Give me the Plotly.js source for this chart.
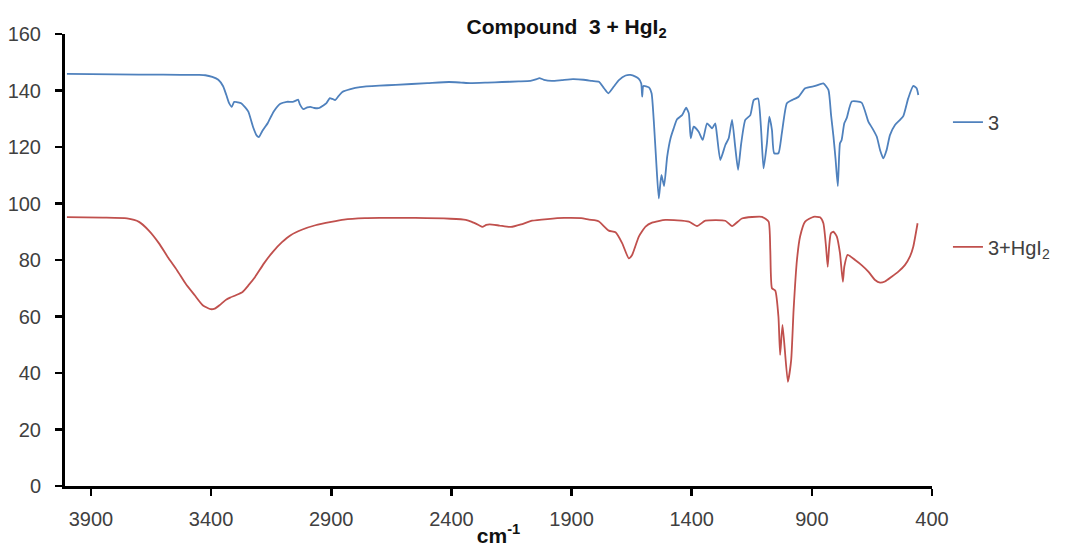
<!DOCTYPE html>
<html>
<head>
<meta charset="utf-8">
<script src="https://cdn.plot.ly/plotly-3.0.1.min.js"></script>
<style>html,body{margin:0;padding:0;background:#fff}#chart{width:1067px;height:547px}</style>
</head>
<body>
<div id="chart"></div>
<script>
// Series "3" : wavenumber (cm-1) and %T
const wn3 = [4000,3800,3600,3450,3424,3395,3370,3350,3337,3325,3314,3304,3290,3275,3258,3245,3225,3210,3201,3188,3164,3140,3112,3085,3060,3045,3038,3030,3016,3000,2987,2970,2950,2935,2920,2906,2895,2884,2870,2854,2820,2780,2700,2632,2500,2410,2360,2322,2250,2189,2120,2071,2045,2034,2015,1982,1940,1894,1850,1815,
 1786,1765,1747,1724,1703,1675,1655,1634,1620,1610,1606,1601,1578,1567,1558,1548,1537,1526,1515,1502,1488,1475,1461,1440,1423,1412,1404,1392,1371,1354,1336,1315,1302,1295,1281,1260,1246,1232,1219,1207,1194,1177,1156,1142,1124,1112,1101,1087,1077,1066,1057,1039,1025,1004,983,955,928,886,852,831,820,810,801,792,783,776,765,755,734,693,665,648,630,616,603,589,575,554,533,519,499,478,464,457];
const t3 = [145.9,145.7,145.6,145.5,145.4,144.8,143.8,141.5,138.5,135.5,134.2,136,135.8,135.5,134,132.5,127,124,123.5,125.5,128.5,132.5,135.3,136,136,136.5,136.8,135,133.4,134,134.2,133.8,133.8,134.6,135.5,137.3,137,136.6,138,139.5,140.5,141.2,141.7,142,142.6,143,142.8,142.6,142.8,143,143.2,143.4,144,144.4,143.8,143.4,143.7,144,143.8,143.4,
 143.1,140.8,139.0,141.4,143.7,145.3,145.5,144.9,144.1,142.5,137.8,141.6,141.1,139.0,129.6,115.4,101.8,110.1,106.2,116.6,123.1,126.6,129.8,131.3,133.9,131.9,123.1,127.2,125.4,122.5,128.4,126.6,128.4,124.3,115.4,120.7,123.1,129.6,120.1,111.9,121.3,129.6,131.3,136.6,137.2,127.2,112.4,121.3,130.7,126.0,117.8,117.8,124.8,135.5,136.6,137.8,140.8,141.6,142.5,140.2,131.3,123.7,115.4,106.2,121.3,122.5,128.4,130.2,136.1,135.7,129.0,126.6,123.7,118.9,116.0,118.9,124.2,127.8,129.6,131.0,137.2,141.6,140.8,138.4];

// Series "3+HgI2"
const wnHg = [4000,3850,3750,3700,3660,3616,3580,3542,3505,3468,3435,3402,3385,3365,3340,3321,3295,3269,3245,3217,3180,3143,3105,3069,3020,2966,2900,2847,2760,2699,2550,2404,2340,2315,2285,2271,2255,2241,2200,2152,2110,2064,2000,1931,1860,1827,1800,
 1786,1745,1717,1689,1662,1648,1620,1592,1565,1509,1412,1378,1343,1260,1232,1191,1108,1080,1073,1066,1052,1039,1032,1022,1000,986,976,962,949,928,893,866,852,841,834,828,821,810,796,783,771,765,751,720,693,665,637,616,596,568,540,513,492,478,460];
const tHg = [95.2,95,94.7,93.5,90.5,85.8,81,76.4,71.5,67.5,64,62.6,62.8,64,65.8,66.7,67.6,68.7,71,74,78.8,82.9,86.3,88.8,90.8,92.3,93.5,94.3,94.8,94.9,94.9,94.6,94.2,93.5,92.3,91.7,92.4,92.6,92.2,91.7,92.6,93.9,94.5,94.9,94.8,94.3,94,
 93.6,90.4,89.8,85.9,80.6,81.8,88.3,91.8,93.2,94.2,93.6,92.0,93.9,93.9,92.0,94.7,95.3,93.6,83.5,70.0,69.1,59.9,46.4,57.0,36.9,44.6,62.3,80.0,88.3,93.6,95.3,95.1,93.0,84.7,77.6,84.7,89.4,90.0,88.3,82.4,72.3,77.6,81.8,80.0,78.2,75.9,72.9,72.0,72.4,74.1,75.9,78.2,81.2,84.7,93.0];

const xTicks = [3900,3400,2900,2400,1900,1400,900,400];
const yTicks = [0,20,40,60,80,100,120,140,160];
const seriesNames = ['3','3+HgI<sub>2</sub>'];
const chartTitle = 'Compound\u00a0 3 + HgI<sub>2</sub>';
const xTitle = 'cm<sup>-1</sup>';

const FONT = 'Liberation Sans, Arial, sans-serif';
const traces = [
  {x: wn3, y: t3, type: 'scatter', mode: 'lines', name: seriesNames[0],
   line: {color: '#4f81bd', width: 1.8, shape: 'spline', smoothing: 0.5}, legend: 'legend'},
  {x: wnHg, y: tHg, type: 'scatter', mode: 'lines', name: seriesNames[1],
   line: {color: '#c0504d', width: 1.8, shape: 'spline', smoothing: 0.5}, legend: 'legend2'}
];
const axisCommon = {
  showline: true, linecolor: '#000', linewidth: 3, mirror: false,
  ticks: 'outside', ticklen: 7, tickwidth: 2.5, tickcolor: '#000',
  showgrid: false, zeroline: false,
  tickfont: {family: FONT, size: 20, color: '#404040'}
};
const layout = {
  width: 1067, height: 547,
  margin: {l: 65, r: 133, t: 34, b: 61, pad: 0},
  paper_bgcolor: '#fff', plot_bgcolor: '#fff',
  font: {family: FONT, color: '#404040'},
  title: {text: chartTitle, x: 0.531, xanchor: 'center', y: 0.952, yanchor: 'middle',
          font: {family: FONT, size: 21, weight: 'bold', color: '#111'}},
  xaxis: Object.assign({}, axisCommon, {
    range: [4008, 400], autorange: false,
    tickmode: 'array', tickvals: xTicks, ticktext: xTicks.map(String),
    ticklabelstandoff: 6,
    title: {text: xTitle, standoff: 6, font: {family: FONT, size: 21, weight: 'bold', color: '#111'}}
  }),
  yaxis: Object.assign({}, axisCommon, {
    range: [0, 160], autorange: false,
    tickmode: 'array', tickvals: yTicks, ticktext: yTicks.map(String),
    ticklabelstandoff: 10
  }),
  legend: {x: 1.0184, xanchor: 'left', y: 0.805, yanchor: 'middle',
           bgcolor: 'rgba(0,0,0,0)', borderwidth: 0,
           font: {family: FONT, size: 20, color: '#404040'}},
  legend2: {x: 1.0184, xanchor: 'left', y: 0.529, yanchor: 'middle',
            bgcolor: 'rgba(0,0,0,0)', borderwidth: 0,
            font: {family: FONT, size: 20, color: '#404040'}},
  showlegend: true
};
Plotly.newPlot('chart', traces, layout, {displayModeBar: false, staticPlot: true});
</script>
</body>
</html>
